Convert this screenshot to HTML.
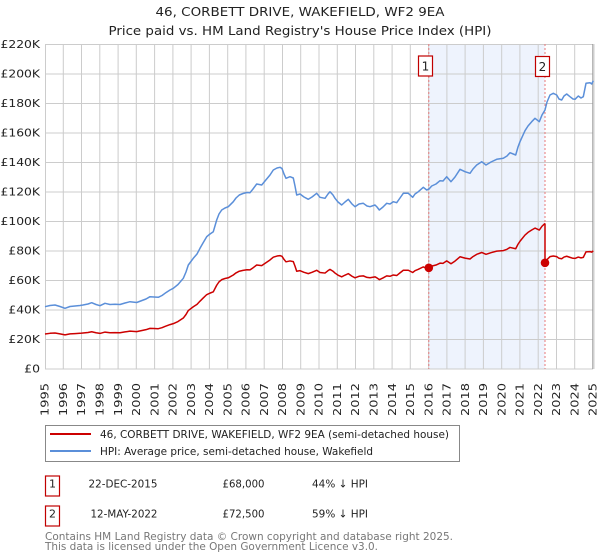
<!DOCTYPE html>
<html><head><meta charset="utf-8"><style>
html,body{margin:0;padding:0;background:#fff;}
svg{display:block;}
text{font-family:"DejaVu Sans","Liberation Sans",sans-serif;fill:#222;}
</style></head><body>
<svg width="600" height="560" viewBox="0 0 600 560" xmlns="http://www.w3.org/2000/svg">
<rect x="0" y="0" width="600" height="560" fill="#fff"/>
<!-- title -->
<text x="300" y="16" font-size="12.5" text-anchor="middle" textLength="289" lengthAdjust="spacingAndGlyphs">46, CORBETT DRIVE, WAKEFIELD, WF2 9EA</text>
<text x="300" y="35" font-size="12.5" text-anchor="middle" textLength="383" lengthAdjust="spacingAndGlyphs">Price paid vs. HM Land Registry's House Price Index (HPI)</text>

<!-- shading between sales -->
<rect x="428.6" y="44" width="116.2" height="325" fill="#eef3fd"/>
<!-- future hatch -->
<rect x="593" y="44" width="2" height="325" fill="#e6e6e6"/>

<!-- grid -->
<g stroke="#cccccc" stroke-width="1" fill="none">
<path d="M45,44.5H593 M45,74H593 M45,103.5H593 M45,133H593 M45,162.5H593 M45,192H593 M45,221.5H593 M45,251H593 M45,280.5H593 M45,310H593 M45,339.5H593 M45,369H593"/>
<path d="M45.5,44V369 M63.3,44V369 M81.5,44V369 M99.8,44V369 M118.1,44V369 M136.3,44V369 M154.6,44V369 M172.9,44V369 M191.1,44V369 M209.4,44V369 M227.7,44V369 M245.9,44V369 M264.2,44V369 M282.5,44V369 M300.7,44V369 M319,44V369 M337.3,44V369 M355.5,44V369 M373.8,44V369 M392.1,44V369 M410.3,44V369 M428.6,44V369 M446.9,44V369 M465.1,44V369 M483.4,44V369 M501.7,44V369 M519.9,44V369 M538.2,44V369 M556.5,44V369 M574.7,44V369"/>
</g>
<line x1="592.8" y1="44" x2="592.8" y2="369" stroke="#999" stroke-width="1"/>

<!-- dashed sale lines -->
<g stroke="#e87a7a" stroke-width="1" stroke-dasharray="2,2">
<line x1="428.8" y1="44" x2="428.8" y2="369"/>
<line x1="545" y1="44" x2="545" y2="369"/>
</g>

<!-- HPI line -->
<polyline fill="none" stroke="#5b8fd9" stroke-width="1.5" stroke-linejoin="round" points="45,306.7 50,305.5 55,305 60,306.5 65,308.3 70,306.5 75,306 80,305.5 83,305 88,304 91.7,302.7 96,304.5 100,305.7 105,303.3 110,304.5 115,304.3 120,304.5 125,303 130,301.7 136.7,302.5 142,300.5 146,299 150,296.7 154,297 158.3,297.3 162,295.5 165,293.3 170,290 173.3,288.3 178,284.5 183.3,278.3 186,272 188.3,265 193.3,258.3 197,254 200,248.3 203,243 206.7,236.7 210,234 213.3,231.7 216.7,220 219,214 221.7,210 225,208 228.3,206.7 233.3,201.7 236,198 239.3,195 243,193.5 247,192.5 250,192.7 253,189 256.7,184 261.7,185 265,181 270,175 273.3,170 277,168 280,167.3 282,168.5 284,174 286,178.3 290,176.7 293.3,178 295,186 296.7,195 300,194 304,197 308.3,199.3 312,197 316.7,193.3 320,197.3 325,198.3 328,194 330,191.7 333,195 335,198.3 338,202 341.7,205 345,202 348.3,199.3 352,204 355,206.7 359,204 363.3,203.3 367,206 370,206.7 375,205 377,207 379.3,210 383,207 386.7,203.3 390,204 393.3,201.7 396.7,202.7 400,198 403.3,193.3 408.3,193.3 412.7,197.3 415,194 418.3,191.7 423.3,187.3 426.7,190 429,189 431.7,186 436,184 440,180.7 443,181 446.7,176.7 451,181.7 455,177 460,169.3 465,171.7 470,173.3 473,169 476.7,165 481.7,161.7 486,165 491,162 496.7,159.3 503.3,158.3 507,156 510,152.7 515.7,155 518,147 520,141.7 525,130.7 528,126 531.7,121.7 535,118.3 539.3,121.7 542,115 545,110 547,102 550,95 553.3,93.3 556.7,95 559,99 561.7,100 564,96 566.7,94 570,96.7 573,99 575,99.3 578.3,96 581,98 583.3,96.7 586,83.3 590,82.7 591.7,84 593.3,80.7"/>

<!-- price paid line (scaled HPI) -->
<polyline fill="none" stroke="#cc0000" stroke-width="1.5" stroke-linejoin="round" vector-effect="non-scaling-stroke" transform="matrix(1 0 0 0.562 0 161.62)" points="45,306.7 50,305.5 55,305 60,306.5 65,308.3 70,306.5 75,306 80,305.5 83,305 88,304 91.7,302.7 96,304.5 100,305.7 105,303.3 110,304.5 115,304.3 120,304.5 125,303 130,301.7 136.7,302.5 142,300.5 146,299 150,296.7 154,297 158.3,297.3 162,295.5 165,293.3 170,290 173.3,288.3 178,284.5 183.3,278.3 186,272 188.3,265 193.3,258.3 197,254 200,248.3 203,243 206.7,236.7 210,234 213.3,231.7 216.7,220 219,214 221.7,210 225,208 228.3,206.7 233.3,201.7 236,198 239.3,195 243,193.5 247,192.5 250,192.7 253,189 256.7,184 261.7,185 265,181 270,175 273.3,170 277,168 280,167.3 282,168.5 284,174 286,178.3 290,176.7 293.3,178 295,186 296.7,195 300,194 304,197 308.3,199.3 312,197 316.7,193.3 320,197.3 325,198.3 328,194 330,191.7 333,195 335,198.3 338,202 341.7,205 345,202 348.3,199.3 352,204 355,206.7 359,204 363.3,203.3 367,206 370,206.7 375,205 377,207 379.3,210 383,207 386.7,203.3 390,204 393.3,201.7 396.7,202.7 400,198 403.3,193.3 408.3,193.3 412.7,197.3 415,194 418.3,191.7 423.3,187.3 426.7,190 429,189 431.7,186 436,184 440,180.7 443,181 446.7,176.7 451,181.7 455,177 460,169.3 465,171.7 470,173.3 473,169 476.7,165 481.7,161.7 486,165 491,162 496.7,159.3 503.3,158.3 507,156 510,152.7 515.7,155 518,147 520,141.7 525,130.7 528,126 531.7,121.7 535,118.3 539.3,121.7 542,115 545,110"/>
<line x1="545" y1="223.4" x2="545" y2="262.8" stroke="#cc0000" stroke-width="1.5"/>
<polyline fill="none" stroke="#cc0000" stroke-width="1.5" stroke-linejoin="round" vector-effect="non-scaling-stroke" transform="matrix(1 0 0 0.41 0 217.71)" points="545,110 547,102 550,95 553.3,93.3 556.7,95 559,99 561.7,100 564,96 566.7,94 570,96.7 573,99 575,99.3 578.3,96 581,98 583.3,96.7 586,83.3 590,82.7 591.7,84 593.3,80.7"/>
<circle cx="428.8" cy="267.8" r="4.3" fill="#cc0000"/>
<circle cx="545" cy="262.8" r="4.3" fill="#cc0000"/>

<!-- number boxes -->
<rect x="418.5" y="56" width="14" height="20" fill="#fff" stroke="#c00000" stroke-width="1.2"/>
<text x="425.5" y="70.5" font-size="12" text-anchor="middle">1</text>
<rect x="535.5" y="56.5" width="14" height="20" fill="#fff" stroke="#c00000" stroke-width="1.2"/>
<text x="542.5" y="71" font-size="12" text-anchor="middle">2</text>

<!-- y labels -->
<g font-size="10.5" text-anchor="end">
<text x="40" y="48" textLength="39.5" lengthAdjust="spacingAndGlyphs">£220K</text>
<text x="40" y="77.7" textLength="39.5" lengthAdjust="spacingAndGlyphs">£200K</text>
<text x="40" y="107.2" textLength="39.5" lengthAdjust="spacingAndGlyphs">£180K</text>
<text x="40" y="136.7" textLength="39.5" lengthAdjust="spacingAndGlyphs">£160K</text>
<text x="40" y="166.2" textLength="39.5" lengthAdjust="spacingAndGlyphs">£140K</text>
<text x="40" y="195.7" textLength="39.5" lengthAdjust="spacingAndGlyphs">£120K</text>
<text x="40" y="225.2" textLength="39.5" lengthAdjust="spacingAndGlyphs">£100K</text>
<text x="40" y="254.7" textLength="31.6" lengthAdjust="spacingAndGlyphs">£80K</text>
<text x="40" y="284.2" textLength="31.6" lengthAdjust="spacingAndGlyphs">£60K</text>
<text x="40" y="313.7" textLength="31.6" lengthAdjust="spacingAndGlyphs">£40K</text>
<text x="40" y="343.2" textLength="31.6" lengthAdjust="spacingAndGlyphs">£20K</text>
<text x="40" y="372.7" textLength="15.8" lengthAdjust="spacingAndGlyphs">£0</text>
</g>

<!-- x labels -->
<g font-size="10.5" text-anchor="end">
<text transform="translate(48.7,383) rotate(-90)" textLength="33" lengthAdjust="spacingAndGlyphs">1995</text>
<text transform="translate(67,383) rotate(-90)" textLength="33" lengthAdjust="spacingAndGlyphs">1996</text>
<text transform="translate(85.2,383) rotate(-90)" textLength="33" lengthAdjust="spacingAndGlyphs">1997</text>
<text transform="translate(103.5,383) rotate(-90)" textLength="33" lengthAdjust="spacingAndGlyphs">1998</text>
<text transform="translate(121.8,383) rotate(-90)" textLength="33" lengthAdjust="spacingAndGlyphs">1999</text>
<text transform="translate(140,383) rotate(-90)" textLength="33" lengthAdjust="spacingAndGlyphs">2000</text>
<text transform="translate(158.3,383) rotate(-90)" textLength="33" lengthAdjust="spacingAndGlyphs">2001</text>
<text transform="translate(176.6,383) rotate(-90)" textLength="33" lengthAdjust="spacingAndGlyphs">2002</text>
<text transform="translate(194.8,383) rotate(-90)" textLength="33" lengthAdjust="spacingAndGlyphs">2003</text>
<text transform="translate(213.1,383) rotate(-90)" textLength="33" lengthAdjust="spacingAndGlyphs">2004</text>
<text transform="translate(231.4,383) rotate(-90)" textLength="33" lengthAdjust="spacingAndGlyphs">2005</text>
<text transform="translate(249.6,383) rotate(-90)" textLength="33" lengthAdjust="spacingAndGlyphs">2006</text>
<text transform="translate(267.9,383) rotate(-90)" textLength="33" lengthAdjust="spacingAndGlyphs">2007</text>
<text transform="translate(286.2,383) rotate(-90)" textLength="33" lengthAdjust="spacingAndGlyphs">2008</text>
<text transform="translate(304.4,383) rotate(-90)" textLength="33" lengthAdjust="spacingAndGlyphs">2009</text>
<text transform="translate(322.7,383) rotate(-90)" textLength="33" lengthAdjust="spacingAndGlyphs">2010</text>
<text transform="translate(341,383) rotate(-90)" textLength="33" lengthAdjust="spacingAndGlyphs">2011</text>
<text transform="translate(359.2,383) rotate(-90)" textLength="33" lengthAdjust="spacingAndGlyphs">2012</text>
<text transform="translate(377.5,383) rotate(-90)" textLength="33" lengthAdjust="spacingAndGlyphs">2013</text>
<text transform="translate(395.8,383) rotate(-90)" textLength="33" lengthAdjust="spacingAndGlyphs">2014</text>
<text transform="translate(414,383) rotate(-90)" textLength="33" lengthAdjust="spacingAndGlyphs">2015</text>
<text transform="translate(432.3,383) rotate(-90)" textLength="33" lengthAdjust="spacingAndGlyphs">2016</text>
<text transform="translate(450.6,383) rotate(-90)" textLength="33" lengthAdjust="spacingAndGlyphs">2017</text>
<text transform="translate(468.8,383) rotate(-90)" textLength="33" lengthAdjust="spacingAndGlyphs">2018</text>
<text transform="translate(487.1,383) rotate(-90)" textLength="33" lengthAdjust="spacingAndGlyphs">2019</text>
<text transform="translate(505.4,383) rotate(-90)" textLength="33" lengthAdjust="spacingAndGlyphs">2020</text>
<text transform="translate(523.6,383) rotate(-90)" textLength="33" lengthAdjust="spacingAndGlyphs">2021</text>
<text transform="translate(541.9,383) rotate(-90)" textLength="33" lengthAdjust="spacingAndGlyphs">2022</text>
<text transform="translate(560.2,383) rotate(-90)" textLength="33" lengthAdjust="spacingAndGlyphs">2023</text>
<text transform="translate(578.4,383) rotate(-90)" textLength="33" lengthAdjust="spacingAndGlyphs">2024</text>
<text transform="translate(596.7,383) rotate(-90)" textLength="33" lengthAdjust="spacingAndGlyphs">2025</text>
</g>

<!-- legend -->
<rect x="45.5" y="425.5" width="414" height="36" fill="#fff" stroke="#888" stroke-width="1"/>
<line x1="50" y1="434" x2="91" y2="434" stroke="#cc0000" stroke-width="2"/>
<line x1="50" y1="451" x2="91" y2="451" stroke="#5b8fd9" stroke-width="2"/>
<text x="100" y="438" font-size="11" textLength="349" lengthAdjust="spacingAndGlyphs">46, CORBETT DRIVE, WAKEFIELD, WF2 9EA (semi-detached house)</text>
<text x="100" y="455" font-size="11" textLength="273" lengthAdjust="spacingAndGlyphs">HPI: Average price, semi-detached house, Wakefield</text>

<!-- table -->
<rect x="45.5" y="476" width="14" height="20" fill="#fff" stroke="#c00000" stroke-width="1.2"/>
<text x="52.5" y="487.5" font-size="11" text-anchor="middle">1</text>
<text x="157.5" y="487.5" font-size="11" text-anchor="end" textLength="69" lengthAdjust="spacingAndGlyphs">22-DEC-2015</text>
<text x="264.5" y="487.5" font-size="11" text-anchor="end" textLength="42" lengthAdjust="spacingAndGlyphs">£68,000</text>
<text x="312" y="487.5" font-size="11" textLength="56" lengthAdjust="spacingAndGlyphs">44% ↓ HPI</text>

<rect x="45.5" y="506" width="14" height="20" fill="#fff" stroke="#c00000" stroke-width="1.2"/>
<text x="52.5" y="517.5" font-size="11" text-anchor="middle">2</text>
<text x="157.5" y="517.5" font-size="11" text-anchor="end" textLength="67" lengthAdjust="spacingAndGlyphs">12-MAY-2022</text>
<text x="264.5" y="517.5" font-size="11" text-anchor="end" textLength="42" lengthAdjust="spacingAndGlyphs">£72,500</text>
<text x="312" y="517.5" font-size="11" textLength="56" lengthAdjust="spacingAndGlyphs">59% ↓ HPI</text>

<!-- footer -->
<text x="45" y="540" font-size="11" fill="#777" style="fill:#777" textLength="408" lengthAdjust="spacingAndGlyphs">Contains HM Land Registry data © Crown copyright and database right 2025.</text>
<text x="45" y="550" font-size="11" fill="#777" style="fill:#777" textLength="333" lengthAdjust="spacingAndGlyphs">This data is licensed under the Open Government Licence v3.0.</text>
</svg>
</body></html>
